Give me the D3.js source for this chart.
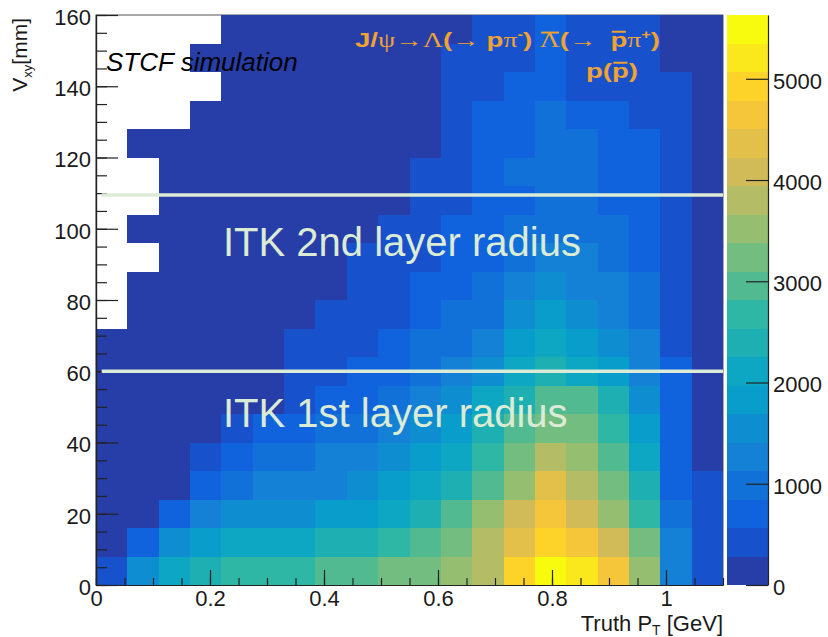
<!DOCTYPE html>
<html>
<head>
<meta charset="utf-8">
<script src="https://cdn.jsdelivr.net/npm/d3@7"></script>
<style>
body { margin: 0; background: #fff; }
text { font-family: "Liberation Sans", Arial, Helvetica, sans-serif; }
</style>
</head>
<body>
<svg id="chart" width="828" height="637"></svg>
<script>
// bin edges
var ptEdges = [0, 0.055, 0.11, 0.165, 0.22, 0.275, 0.33, 0.385, 0.44, 0.495, 0.55,
	0.605, 0.66, 0.715, 0.77, 0.825, 0.88, 0.935, 0.99, 1.045, 1.1];
var vxyEdges = [0, 8, 16, 24, 32, 40, 48, 56, 64, 72, 80, 88, 96, 104, 112, 120, 128, 136, 144, 152, 160];

// entries per bin, one row per Vxy bin (row 0 = 0-8 mm), columns = pT bins
var counts = [
	[420, 1560, 2120, 2390, 2650, 2700, 2760, 2900, 2980, 3150, 3240, 3500, 3800, 4950, 5630, 5200, 4650, 3520, 1300, 480],
	[180, 700, 1500, 1800, 2050, 2100, 2150, 2350, 2420, 2650, 2900, 3250, 3800, 4350, 4900, 4600, 4050, 3200, 1250, 450],
	[120, 230, 680, 1200, 1450, 1500, 1550, 1750, 1850, 2050, 2400, 2950, 3500, 4050, 4550, 4100, 3450, 2650, 1000, 420],
	[70, 150, 260, 650, 950, 1180, 1250, 1300, 1500, 1750, 2050, 2300, 2950, 3450, 4300, 3750, 3150, 2350, 800, 380],
	[40, 90, 180, 420, 720, 980, 1050, 1200, 1300, 1480, 1750, 2100, 2650, 3200, 3800, 3500, 2900, 2050, 700, 240],
	[30, 70, 130, 240, 380, 620, 700, 900, 980, 1200, 1500, 1800, 2350, 2900, 3250, 3150, 2650, 1750, 650, 200],
	[20, 50, 100, 170, 230, 270, 420, 650, 750, 950, 1200, 1450, 2050, 2400, 2950, 2850, 2300, 1480, 600, 180],
	[15, 40, 80, 130, 190, 250, 350, 480, 620, 800, 900, 1250, 1500, 2050, 2350, 2100, 1800, 1200, 580, 160],
	[10, 30, 60, 100, 150, 220, 300, 400, 520, 680, 880, 1000, 1250, 1750, 2050, 1800, 1500, 1150, 560, 150],
	[0, 25, 50, 80, 120, 170, 240, 330, 430, 560, 750, 900, 1050, 1500, 1750, 1550, 1300, 950, 500, 140],
	[0, 20, 40, 70, 100, 140, 190, 260, 350, 470, 640, 780, 950, 1250, 1500, 1300, 1150, 900, 450, 130],
	[0, 0, 30, 55, 85, 120, 160, 220, 280, 380, 520, 650, 800, 1000, 1200, 1150, 950, 750, 420, 120],
	[0, 15, 25, 45, 70, 100, 140, 190, 250, 330, 460, 600, 720, 900, 1050, 1000, 880, 680, 380, 110],
	[0, 0, 20, 40, 60, 90, 120, 160, 210, 270, 400, 520, 650, 800, 920, 880, 780, 620, 350, 100],
	[0, 0, 15, 30, 50, 75, 100, 140, 180, 240, 330, 460, 600, 870, 900, 860, 700, 580, 330, 95],
	[0, 10, 15, 25, 40, 60, 85, 120, 160, 210, 270, 420, 580, 700, 860, 850, 650, 580, 310, 90],
	[0, 0, 0, 20, 35, 50, 70, 100, 140, 180, 240, 380, 570, 660, 870, 780, 600, 520, 300, 80],
	[0, 0, 0, 0, 25, 40, 60, 85, 120, 160, 220, 350, 480, 600, 700, 540, 480, 450, 290, 75],
	[0, 0, 0, 10, 20, 35, 50, 75, 100, 140, 200, 320, 450, 540, 640, 530, 440, 400, 260, 70],
	[0, 0, 0, 0, 15, 30, 45, 65, 90, 120, 180, 270, 420, 520, 610, 500, 420, 380, 240, 60]
];

var xTicks = [0, 0.2, 0.4, 0.6, 0.8, 1];
var yTicks = [0, 20, 40, 60, 80, 100, 120, 140, 160];
var zTicks = [0, 1000, 2000, 3000, 4000, 5000];
var layerRadii = [60, 109.5];
var layerLabels = ["ITK 1st layer radius", "ITK 2nd layer radius"];
var nContours = 20;

// ROOT kBird palette
var birdStops = [0, 0.125, 0.25, 0.375, 0.5, 0.625, 0.75, 0.875, 1];
var birdR = [0.2082, 0.0592, 0.0780, 0.0232, 0.1802, 0.5301, 0.8186, 0.9956, 0.9764];
var birdG = [0.1664, 0.3599, 0.5041, 0.6419, 0.7178, 0.7492, 0.7328, 0.7862, 0.9832];
var birdB = [0.5293, 0.8684, 0.8385, 0.7914, 0.6425, 0.4662, 0.3499, 0.1968, 0.0539];

var svg = d3.select("#chart");
var plot = {left: 96, right: 723, top: 15, bottom: 585};

var x = d3.scaleLinear().domain([0, 1.1]).range([plot.left, plot.right]);
var y = d3.scaleLinear().domain([0, 160]).range([plot.bottom, plot.top]);

var zMax = d3.max(counts, function(r) { return d3.max(r); });
var z = d3.scaleLinear().domain([0, zMax]).range([plot.bottom, plot.top]);

var bird = d3.scaleLinear()
	.domain(birdStops)
	.range(birdStops.map(function(s, i) {
		return d3.rgb(birdR[i] * 255, birdG[i] * 255, birdB[i] * 255);
	}))
	.interpolate(d3.interpolateRgb);

// colour of contour level k, as ROOT picks it out of 255 palette colours
function levelColor(k) {
	var idx = Math.floor((k + 0.99) * 255 / nContours);
	return bird(Math.min(idx, 254) / 254);
}
function levelOf(v) {
	return Math.min(nContours - 1, Math.floor(0.01 + v * nContours / zMax));
}

// frame
svg.append("rect")
	.attr("x", plot.left).attr("y", plot.top)
	.attr("width", plot.right - plot.left).attr("height", plot.bottom - plot.top)
	.attr("fill", "none").attr("stroke", "#555").attr("stroke-width", 1);

// cells
var cells = [];
counts.forEach(function(row, j) {
	row.forEach(function(v, i) {
		if (v > 0) cells.push({i: i, j: j, v: v});
	});
});
svg.append("g")
	.attr("shape-rendering", "crispEdges")
	.selectAll("rect")
	.data(cells)
	.enter().append("rect")
	.attr("x", function(d) { return x(ptEdges[d.i]); })
	.attr("y", function(d) { return y(vxyEdges[d.j + 1]); })
	.attr("width", function(d) { return x(ptEdges[d.i + 1]) - x(ptEdges[d.i]); })
	.attr("height", function(d) { return y(vxyEdges[d.j]) - y(vxyEdges[d.j + 1]); })
	.attr("fill", function(d) { return levelColor(levelOf(d.v)); });

// axes
function styleAxis(g) {
	g.select(".domain").attr("stroke", "#222").attr("stroke-width", 1.2);
	g.selectAll(".tick line").attr("stroke", "#222").attr("stroke-width", 1.2);
	g.selectAll(".tick text").attr("fill", "#1a1a1a").style("font-size", "22px");
}
var xMinor = d3.range(0, 1.1001, 0.05);
var yMinor = d3.range(0, 160.001, 5);

svg.append("g")
	.attr("transform", "translate(0," + plot.bottom + ")")
	.call(d3.axisBottom(x).tickValues(xMinor).tickSize(-7).tickFormat("").tickSizeOuter(0))
	.call(styleAxis);
svg.append("g")
	.attr("transform", "translate(0," + plot.bottom + ")")
	.call(d3.axisBottom(x).tickValues(xTicks).tickSize(-15).tickPadding(6).tickSizeOuter(0)
		.tickFormat(d3.format("~g")))
	.call(styleAxis)
	.call(function(g) { g.selectAll(".tick text").attr("y", 21).attr("dy", 0); });

svg.append("g")
	.attr("transform", "translate(" + plot.left + ",0)")
	.call(d3.axisLeft(y).tickValues(yMinor).tickSize(-11).tickFormat("").tickSizeOuter(0))
	.call(styleAxis);
svg.append("g")
	.attr("transform", "translate(" + plot.left + ",0)")
	.call(d3.axisLeft(y).tickValues(yTicks).tickSize(-22).tickPadding(5).tickSizeOuter(0))
	.call(styleAxis)
	.call(function(g) { g.selectAll(".tick text").attr("dy", "0.42em"); });

// axis titles
var xt = svg.append("text")
	.attr("x", plot.right).attr("y", 631)
	.attr("text-anchor", "end")
	.style("font-size", "22px").attr("fill", "#1a1a1a");
xt.append("tspan").text("Truth P");
xt.append("tspan").attr("dy", 4).style("font-size", "14px").text("T");
xt.append("tspan").attr("dy", -4).text(" [GeV]");

var yt = svg.append("text")
	.attr("transform", "translate(27,18) rotate(-90)")
	.attr("text-anchor", "end")
	.style("font-size", "21px").attr("fill", "#1a1a1a");
yt.append("tspan").text("V");
yt.append("tspan").attr("dy", 5).style("font-size", "13px").text("xy");
yt.append("tspan").attr("dy", -5).text("[mm]");

// colour bar
var bar = {left: 727, right: 768};
var levels = d3.range(nContours);
svg.append("g")
	.attr("shape-rendering", "crispEdges")
	.selectAll("rect")
	.data(levels)
	.enter().append("rect")
	.attr("x", bar.left)
	.attr("width", bar.right - bar.left)
	.attr("y", function(k) { return z((k + 1) * zMax / nContours); })
	.attr("height", function(k) { return z(k * zMax / nContours) - z((k + 1) * zMax / nContours); })
	.attr("fill", function(k) { return levelColor(k); });

svg.append("g")
	.attr("transform", "translate(" + bar.right + ",0)")
	.call(d3.axisRight(z).tickValues(zTicks).tickSize(-22).tickPadding(5).tickSizeOuter(0)
		.tickFormat(d3.format("d")))
	.call(styleAxis)
	.call(function(g) { g.selectAll(".tick text").attr("dy", "0.42em"); });

// detector layer lines and labels
svg.append("g").selectAll("line")
	.data(layerRadii)
	.enter().append("line")
	.attr("x1", x(0.01)).attr("x2", x(1.1))
	.attr("y1", function(d) { return y(d); })
	.attr("y2", function(d) { return y(d); })
	.attr("stroke", "#dcebd6").attr("stroke-width", 3.5);

svg.append("g").selectAll("text")
	.data(layerLabels)
	.enter().append("text")
	.attr("x", 223)
	.attr("y", function(d, i) { return i == 0 ? 427 : 256; })
	.attr("fill", "#dcebd4")
	.style("font-size", "40px")
	.text(function(d) { return d; });

// STCF label
svg.append("text")
	.attr("x", 106).attr("y", 71)
	.style("font-size", "26px").style("font-style", "italic")
	.attr("fill", "#000")
	.text("STCF simulation");

// decay title (the original is drawn horizontally stretched)
var orange = "#f0a232";
var serif = "'Liberation Serif', 'DejaVu Serif', serif";
var parts = [
	{t: "J/"},
	{t: "\u03c8\u2192\u039b", f: serif, w: "normal"},
	{t: "("},
	{t: "\u2192 ", f: serif, w: "normal"},
	{t: "p"},
	{t: "\u03c0", f: serif, w: "normal"},
	{t: "-", sup: true},
	{t: ") "},
	{t: "\u039b", f: serif, w: "normal", bar: true},
	{t: "("},
	{t: "\u2192  ", f: serif, w: "normal"},
	{t: "p", bar: true},
	{t: "\u03c0", f: serif, w: "normal"},
	{t: "+", sup: true},
	{t: ")"}
];
function addTitle(tx, ty, anchor, list) {
	var g = svg.append("g")
		.attr("transform", "translate(" + tx + "," + ty + ") scale(1.38,1)");
	var t = g.append("text")
		.attr("text-anchor", anchor)
		.attr("fill", orange)
		.style("font-size", "20px").style("font-weight", "bold")
		.style("white-space", "pre");
	var raised = false;
	list.forEach(function(p) {
		var ts = t.append("tspan").text(p.t);
		if (p.f) ts.style("font-family", p.f);
		if (p.w) ts.style("font-weight", p.w);
		if (p.sup) { ts.attr("dy", -8).style("font-size", "12px"); raised = true; }
		else if (raised) { ts.attr("dy", 8); raised = false; }
		if (p.bar) ts.classed("ovl", true);
	});
	// overlines over the anti-particles
	t.selectAll("tspan.ovl").each(function() {
		var b = this.getBBox();
		g.append("line")
			.attr("x1", b.x + 1).attr("x2", b.x + b.width - 1)
			.attr("y1", b.y + 3).attr("y2", b.y + 3)
			.attr("stroke", orange).attr("stroke-width", 2);
	});
}
addTitle(355, 47, "start", parts);
addTitle(612, 78, "middle", [{t: "p("}, {t: "p", bar: true}, {t: ")"}]);
</script>
</body>
</html>
